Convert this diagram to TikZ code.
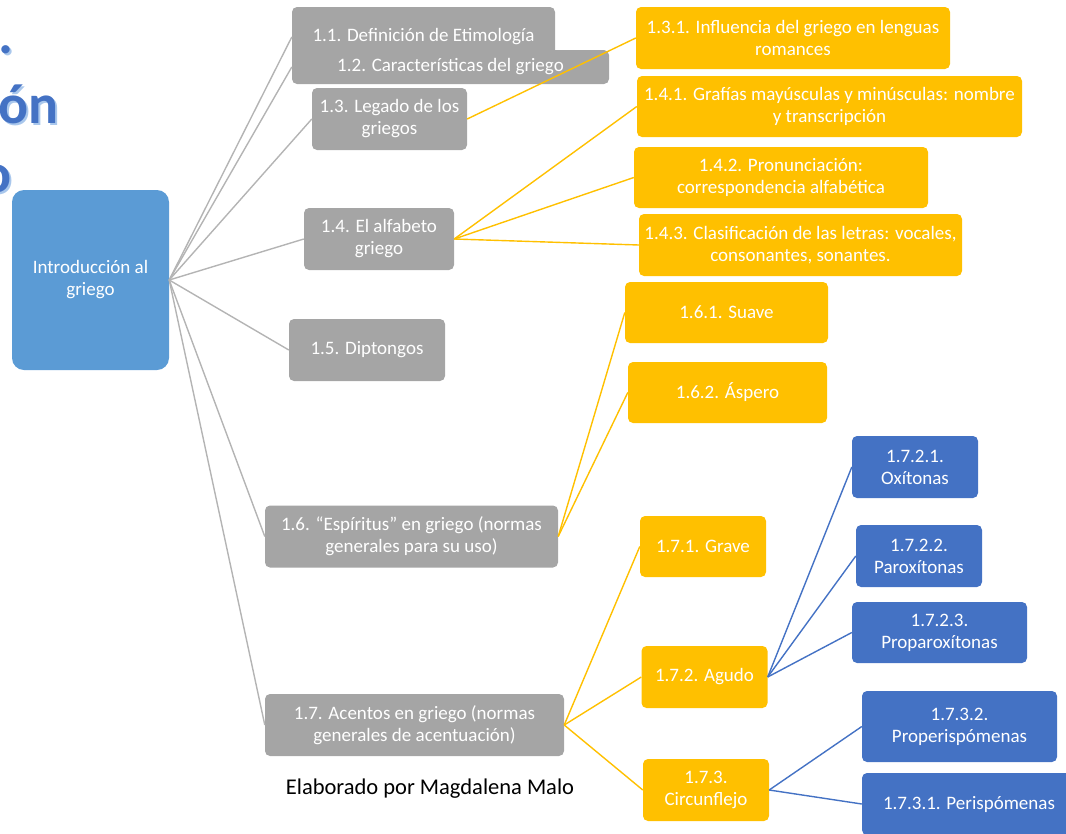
\documentclass[tikz,border=0pt]{standalone}
\usepackage{fontspec}
\setmainfont{Carlito}
\definecolor{rootblue}{HTML}{5B9BD5}
\definecolor{secgray}{HTML}{A5A5A5}
\definecolor{subgold}{HTML}{FFC000}
\definecolor{leafblue}{HTML}{4472C4}
\definecolor{linegray}{HTML}{B4B4B4}
\definecolor{titleshade}{HTML}{A9C7EC}

\begin{document}
\begin{tikzpicture}[x=1pt,y=-1pt]
            \tikzstyle{topic}=[rectangle, rounded corners=5pt, minimum height=62pt, inner sep=2pt, align=center, text=white, font=\fontsize{19}{22}\selectfont]
            \tikzstyle{rootbox}=[topic, rounded corners=12pt, fill=rootblue, minimum width=157pt, minimum height=180pt]
            \tikzstyle{secbox}=[topic, fill=secgray]
            \tikzstyle{subbox}=[topic, fill=subgold]
            \tikzstyle{leafbox}=[topic, fill=leafblue]
            \tikzstyle{titletext}=[anchor=base east, inner sep=0pt, font=\fontsize{56}{60}\selectfont\bfseries]
            \tikzstyle{connect}=[line width=1.4pt, draw=linegray]
            \tikzstyle{subconnect}=[line width=1.4pt, draw=subgold]
            \tikzstyle{leafconnect}=[line width=1.4pt, draw=leafblue]
            \useasboundingbox (0,0) rectangle (1066,833);
            \clip (0,0) rectangle (1066,833);
            % title fragments at the left edge
            \node[titletext, text=titleshade] (dotshade) at (16,55) {.};
            \node[titletext, text=leafblue] (dot) at (14,53) {.};
            \node[titletext, text=titleshade] (onshade) at (61,125) {ón};
            \node[titletext, text=leafblue] (on) at (59,123) {ón};
            \node[titletext, text=titleshade] (oshade) at (14,194) {o};
            \node[titletext, text=leafblue] (o) at (12,192) {o};
            {\node[rootbox] (root) at (90.5,280) {Introducción al\\griego};
            \node[secbox, minimum width=263pt, minimum height=60pt] (11) at (423.5,37) {1.1. Definición de Etimología};
            \node[secbox, minimum width=317pt, minimum height=34pt, inner sep=0pt] (12) at (450.5,67) {1.2. Características del griego};
            \node[secbox, minimum width=155pt] (13) at (389.5,119) {1.3. Legado de los\\griegos};
            \node[secbox, minimum width=150pt] (14) at (379,239) {1.4. El alfabeto\\griego};
            \node[secbox, minimum width=156pt] (15) at (367,350) {1.5. Diptongos};
            \node[secbox, minimum width=293pt] (16) at (411.5,536.5) {1.6. “Espíritus” en griego (normas\\generales para su uso)};
            \node[secbox, minimum width=299pt] (17) at (414.5,725) {1.7. Acentos en griego (normas\\generales de acentuación)};
            \node[font=\fontsize{22.5}{26}\selectfont] (credit) at (430,789) {Elaborado por Magdalena Malo};}
            {\node[subbox, minimum width=314pt] (131) at (793,38) {1.3.1. Influencia del griego en lenguas\\romances};
            \node[subbox, minimum width=385pt, minimum height=61pt] (141) at (829.5,106.5) {1.4.1. Grafías mayúsculas y minúsculas: nombre\\y transcripción};
            \node[subbox, minimum width=294pt, minimum height=61pt] (142) at (781,177.5) {1.4.2. Pronunciación:\\correspondencia alfabética};
            \node[subbox, minimum width=323pt] (143) at (800.5,245) {1.4.3. Clasificación de las letras: vocales,\\consonantes, sonantes.};
            \node[subbox, minimum width=203pt, minimum height=61pt] (161) at (726.5,312.5) {1.6.1. Suave};
            \node[subbox, minimum width=199pt, minimum height=61pt] (162) at (727.5,392.5) {1.6.2. Áspero};
            \node[subbox, minimum width=126pt, minimum height=61pt] (171) at (703,546.5) {1.7.1. Grave};
            \node[subbox, minimum width=126pt] (172) at (704.5,677) {1.7.2. Agudo};
            \node[subbox, minimum width=126pt] (173) at (706,790) {1.7.3.\\Circunflejo};}
            {\node[leafbox, minimum width=126pt] (1721) at (915,467) {1.7.2.1.\\Oxítonas};
            \node[leafbox, minimum width=126pt] (1722) at (919,556) {1.7.2.2.\\Paroxítonas};
            \node[leafbox, minimum width=175pt, minimum height=61pt] (1723) at (939.5,632.5) {1.7.2.3.\\Proparoxítonas};
            \node[leafbox, minimum width=195pt, minimum height=71pt] (1732) at (959.5,726.5) {1.7.3.2.\\Properispómenas};
            \node[leafbox, minimum width=214pt] (1731) at (969,804) {1.7.3.1. Perispómenas};}
\path (root.east) edge [connect] (11.west);
            \path (root.east) edge [connect] (12.west);
            \path (root.east) edge [connect] (13.west);
            \path (root.east) edge [connect] (14.west);
            \path (root.east) edge [connect] (15.west);
            \path (root.east) edge [connect] (16.west);
            \path (root.east) edge [connect] (17.west);
            \path (13.east) edge [subconnect] (131.west);
            \path (14.east) edge [subconnect] (141.west);
            \path (14.east) edge [subconnect] (142.west);
            \path (14.east) edge [subconnect] (143.west);
            \path (16.east) edge [subconnect] (161.west);
            \path (16.east) edge [subconnect] (162.west);
            \path (17.east) edge [subconnect] (171.west);
            \path (17.east) edge [subconnect] (172.west);
            \path (17.east) edge [subconnect] (173.west);
            \path (172.east) edge [leafconnect] (1721.west);
            \path (172.east) edge [leafconnect] (1722.west);
            \path (172.east) edge [leafconnect] (1723.west);
            \path (173.east) edge [leafconnect] (1732.west);
            \path (173.east) edge [leafconnect] (1731.west);
        \end{tikzpicture}
\end{document}
